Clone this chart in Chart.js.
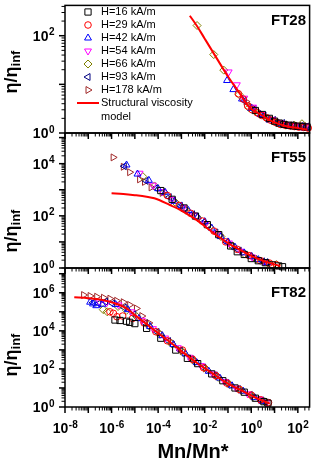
<!DOCTYPE html>
<html>
<head>
<meta charset="utf-8">
<script src="https://cdn.jsdelivr.net/npm/chart.js"></script>
<style>
html, body { margin: 0; padding: 0; background: #fff; }
#wrap { position: relative; width: 315px; height: 460px; }
#wrap canvas { position: absolute; left: 0; top: 0; }
</style>
</head>
<body>
<div id="wrap">
  <canvas id="p1" width="315" height="460"></canvas>
  <canvas id="p2" width="315" height="460"></canvas>
  <canvas id="p3" width="315" height="460"></canvas>
</div>
<script>
// series / legend
const seriesLabels = ['H=16 kA/m', 'H=29 kA/m', 'H=42 kA/m', 'H=54 kA/m', 'H=66 kA/m', 'H=93 kA/m', 'H=178 kA/m'];
const modelLabel = ['Structural viscosity', 'model'];
const xTickExps = [-8, -6, -4, -2, 0, 2];
const yTickExps28 = [0, 2];
const yTickExps55 = [0, 2, 4];
const yTickExps82 = [0, 2, 4, 6];
const panelNames = ['FT28', 'FT55', 'FT82'];

// FT28  [Mn/Mn*, eta/eta_inf]
const model28 = [[2.3e-3,258],[4.8e-3,155],[0.01,87],[0.032,35],[0.1,14.5],[0.32,6.5],[0.81,3.4],[2.5,2.4],[6.3,1.82],[32,1.38],[100,1.26],[260,1.17]];
const ft28_h16 = [[1.5,2.9],[3,2.4],[6,2.0],[10,1.75],[16,1.6],[25,1.5],[40,1.45],[63,1.4],[100,1.38],[160,1.36],[250,1.33]];
const ft28_h29 = [[0.28,6.4],[0.45,5.0],[0.7,3.6],[1.1,3.0],[1.8,2.6],[2.8,2.3],[4.5,2.05],[7,1.82],[11,1.66],[18,1.5],[28,1.45],[45,1.4],[70,1.36],[110,1.32],[180,1.3],[280,1.26]];
const ft28_h42 = [[0.091,12],[0.17,7.8],[0.4,5],[1,3.2],[2.5,2.4],[6,1.85],[15,1.55],[40,1.38],[100,1.3],[200,1.25]];
const ft28_h54 = [[0.107,18],[0.24,9.8],[0.5,5.2],[1.2,3.4],[3,2.4],[8,1.9],[20,1.6],[50,1.45],[120,1.42],[220,1.4]];
const ft28_h66 = [[4.7e-3,162],[0.0245,41],[0.066,19.6],[0.3,6.2],[0.8,3.3],[2,2.55],[5,1.95],[12,1.62],[30,1.45],[70,1.45],[150,1.55]];
const ft28_h93 = [[0.5,4.6],[1.3,3.1],[3.5,2.3],[9,1.85],[22,1.6],[55,1.47],[140,1.4],[240,1.36]];
const ft28_h178 = [[0.6,4.4],[1,3.5],[1.6,2.9],[2.5,2.55],[4,2.2],[6.3,2.0],[10,1.8],[16,1.65],[25,1.55],[40,1.48],[63,1.44],[100,1.42],[160,1.4],[250,1.38]];

// FT55
const model55 = [[1e-6,730],[3.2e-6,690],[1e-5,620],[3.2e-5,540],[6.9e-5,470],[3.2e-4,260],[1e-3,160],[3.2e-3,85],[0.01,40],[0.032,18],[0.1,9],[0.32,5],[1,2.9],[3.2,1.9],[10,1.38],[17.8,1.2]];
const ft55_h16 = [[1.3e-4,930],[4e-4,430],[1.3e-3,200],[4e-3,98],[0.013,46],[0.04,19],[0.13,7],[0.25,4.2],[0.5,3.3],[1,2.3],[2,1.9],[4,1.6],[8,1.32],[15,1.2],[22,1.12]];
const ft55_h29 = [[2.5e-4,600],[8e-4,250],[2.5e-3,125],[8e-3,63],[0.025,26],[0.08,10],[0.25,5.2],[0.8,3.0],[2.5,1.9],[6,1.55],[12,1.32]];
const ft55_h42 = [[4.4e-6,8900],[1.3e-5,4000],[4e-5,2300],[1e-4,1100],[2e-4,800],[5e-4,360],[1e-3,240],[2e-3,160],[5e-3,90],[0.01,60],[0.02,34],[0.05,16],[0.1,10],[0.2,6.3],[0.5,3.8],[1,2.8],[2,2.1],[5,1.6]];
const ft55_h54 = [[1.6e-5,4300],[6e-5,1500],[1.5e-4,850],[4e-4,430],[1.2e-3,210],[3.5e-3,107],[0.011,50],[0.035,21],[0.11,9.1],[0.35,4.4],[1.1,2.6],[3.5,1.74]];
const ft55_h66 = [[2.2e-5,3200],[7e-5,1400],[1.8e-4,800],[5.5e-4,330],[1.6e-3,160],[5e-3,85],[0.016,38],[0.05,16],[0.16,6.9],[0.5,3.5],[1.6,2.2],[5,1.6],[12,1.35]];
const ft55_h93 = [[3.5e-6,8000],[3e-5,2200],[8e-5,1150],[3e-4,520],[9e-4,240],[3e-3,115],[9e-3,57],[0.03,23],[0.09,9.8],[0.3,4.7],[0.9,2.8],[3,1.8]];
const ft55_h178 = [[1.17e-6,17400],[3.2e-6,7600],[6e-6,4700],[1.6e-5,2500],[2.6e-5,2000],[5e-5,1230],[1.5e-4,760],[4.5e-4,380],[1.4e-3,190],[4.5e-3,95],[0.014,45],[0.045,18],[0.14,7.8],[0.45,4],[1.4,2.5],[4,1.7]];

// FT82
const model82 = [[2.5e-8,5.8e5],[1e-7,5.2e5],[4e-7,4.2e5],[1.26e-6,2.9e5],[4e-6,1.6e5],[1.26e-5,5.4e4],[6.9e-5,1.07e4],[3.2e-4,2600],[1.26e-3,690],[4.8e-3,200],[0.02,62],[0.091,17.8],[0.32,8.1],[1.23,3.5],[3.2,2.1],[6.3,1.5]];
const ft82_h16 = [[1.4e-6,3.7e4],[2.3e-6,3.5e4],[4.4e-6,3.2e4],[6e-6,2.8e4],[1e-5,2.4e4],[3.2e-5,1.35e4],[1.3e-4,4100],[5.7e-4,980],[1.8e-3,360],[5e-3,190],[0.02,55],[0.06,24],[0.2,10],[0.5,6],[1.5,2.9],[3.5,1.9],[5.2,1.6]];
const ft82_h29 = [[8.5e-7,1e5],[1.2e-6,8.3e4],[1.7e-6,5.5e4],[3e-6,6e4],[8e-6,4.5e4],[2.5e-5,2.6e4],[8e-5,9000],[2.5e-4,3000],[1.1e-3,980],[3e-3,320],[9e-3,115],[0.03,44],[0.09,18],[0.3,8.5],[1,4.2],[2.5,2.4],[5.5,1.7]];
const ft82_h42 = [[1.2e-7,3.2e5],[1.6e-7,2.6e5],[2.2e-7,2.1e5],[4e-7,2.5e5],[1.5e-6,2.4e5],[5e-6,1.3e5],[1.5e-5,4.4e4],[4.5e-5,1.7e4],[1.5e-4,5600],[4.5e-4,1900],[1.5e-3,620],[4.5e-3,215],[0.015,75],[0.045,33],[0.15,13],[0.45,6.8],[1.4,3.1],[3.2,2.0]];
const ft82_h54 = [[3e-7,3.3e5],[6e-7,2.9e5],[2e-6,2.3e5],[7e-6,1e5],[2e-5,3.6e4],[6e-5,1.3e4],[2e-4,4200],[7e-4,1300],[2.2e-3,410],[7e-3,150],[0.022,55],[0.07,22],[0.22,10],[0.7,4.9],[2.2,2.6],[4.5,1.75]];
const ft82_h66 = [[4.4e-7,1.3e5],[6.5e-7,1e5],[1.9e-6,1.9e5],[4.4e-6,1.2e5],[1.2e-5,5.6e4],[3.8e-5,1.9e4],[1.2e-4,6500],[3.8e-4,2100],[1.2e-3,720],[3.8e-3,240],[0.012,93],[0.038,36],[0.12,14.8],[0.38,7.2],[1.2,3.5],[3.8,1.9]];
const ft82_h93 = [[1.6e-7,3e5],[2.8e-7,2.7e5],[5.5e-7,3.4e5],[1.1e-6,2.7e5],[3.5e-6,1.66e5],[9e-6,7.4e4],[2.8e-5,2.5e4],[9e-5,8700],[2.8e-4,2900],[9e-4,930],[2.8e-3,320],[9e-3,118],[0.028,46],[0.09,18],[0.28,8.7],[0.9,4.3],[2.8,2.2]];
const ft82_h178 = [[6.3e-8,7.6e5],[1.2e-7,6.8e5],[2.3e-7,6.2e5],[4.5e-7,5.5e5],[8.5e-7,4.9e5],[1.66e-6,3.8e5],[3.2e-6,3.2e5],[6e-6,2.3e5],[1.17e-5,1.5e5],[2e-5,6e4],[4e-5,2.6e4],[1.1e-4,8000],[3.5e-4,2700],[1.1e-3,850],[3.5e-3,290],[0.011,105],[0.035,41],[0.11,16.5],[0.35,8],[1.1,3.9],[2.6,2.3]];

// marker styles (Origin-like colours)
const seriesColors = ['#000000', '#ff0000', '#0000ff', '#ff00ff', '#808000', '#000080', '#a02828'];
const seriesShapes = ['rect', 'circle', 'triangle', 'triangle', 'rectRot', 'triangle', 'triangle'];
const seriesRotation = [0, 0, 0, 180, 0, 270, 90];
const seriesRadius = [4.4, 3.3, 4, 4, 4, 4, 4];

const FONT = '"Liberation Sans", Arial, Helvetica, sans-serif';

function logTicks(min, max) {
    const out = [];
    for (let e = Math.floor(Math.log10(min)); e <= Math.ceil(Math.log10(max)); e++) {
        for (let m = 1; m <= 9; m++) {
            const v = m * Math.pow(10, e);
            if (v >= min * 0.999 && v <= max * 1.001) out.push({ v, major: m === 1 });
        }
    }
    return out;
}

// "10" with a superscript exponent; align 'right' or 'center'
function drawPow(ctx, exp, x, y, align) {
    const base = '10', sup = String(exp);
    ctx.font = `bold 14px ${FONT}`;
    const wb = ctx.measureText(base).width;
    ctx.font = `bold 10px ${FONT}`;
    const ws = ctx.measureText(sup).width;
    const x0 = align === 'right' ? x - wb - ws : x - (wb + ws) / 2;
    ctx.textAlign = 'left';
    ctx.textBaseline = 'alphabetic';
    ctx.font = `bold 14px ${FONT}`;
    ctx.fillText(base, x0, y + 5);
    ctx.font = `bold 10px ${FONT}`;
    ctx.fillText(sup, x0 + wb + 0.5, y - 0.5);
}

function marker(ctx, i, x, y) {
    ctx.save();
    ctx.strokeStyle = seriesColors[i];
    ctx.fillStyle = 'rgba(0,0,0,0)';
    ctx.lineWidth = 1;
    const opts = { pointStyle: seriesShapes[i], radius: seriesRadius[i], rotation: seriesRotation[i], borderWidth: 1 };
    if (Chart.helpers && Chart.helpers.drawPoint) Chart.helpers.drawPoint(ctx, opts, x, y);
    ctx.restore();
}

const framePlugin = {
    id: 'frame',
    afterDatasetsDraw(chart, args, o) {
        const { ctx, chartArea: a } = chart;
        const xs = chart.scales.x, ys = chart.scales.y;
        ctx.save();
        ctx.strokeStyle = '#000';
        ctx.fillStyle = '#000';
        ctx.lineWidth = 1.5;
        ctx.strokeRect(a.left, a.top, a.right - a.left, a.bottom - a.top);

        // x ticks, outward below each panel
        logTicks(xs.min, xs.max).forEach(t => {
            const px = xs.getPixelForValue(t.v);
            const len = t.major ? 6 : 3.5;
            ctx.lineWidth = t.major ? 1.5 : 1;
            ctx.beginPath();
            ctx.moveTo(px, a.bottom);
            ctx.lineTo(px, a.bottom + len);
            ctx.stroke();
        });

        // y ticks, outward to the left
        logTicks(ys.min, ys.max).forEach(t => {
            const py = ys.getPixelForValue(t.v);
            const len = t.major ? 6 : 3.5;
            ctx.lineWidth = t.major ? 1.5 : 1;
            ctx.beginPath();
            ctx.moveTo(a.left, py);
            ctx.lineTo(a.left - len, py);
            ctx.stroke();
        });

        // y tick labels
        o.yExps.forEach(e => drawPow(ctx, e, a.left - 11, ys.getPixelForValue(Math.pow(10, e)), 'right'));

        // x tick labels + title
        if (o.bottomAxis) {
            xTickExps.forEach(e => drawPow(ctx, e, xs.getPixelForValue(Math.pow(10, e)), a.bottom + 21, 'center'));
            ctx.font = `bold 20px ${FONT}`;
            ctx.textAlign = 'center';
            ctx.textBaseline = 'alphabetic';
            ctx.fillText('Mn/Mn*', 193, 458);
        }

        // y title
        ctx.save();
        ctx.translate(17, o.titleY);
        ctx.rotate(-Math.PI / 2);
        ctx.font = `bold 18px ${FONT}`;
        const w1 = ctx.measureText('\u03b7/\u03b7').width;
        ctx.font = `bold 13px ${FONT}`;
        const w2 = ctx.measureText('inf').width;
        const sx = -(w1 + w2) / 2;
        ctx.textAlign = 'left';
        ctx.textBaseline = 'alphabetic';
        ctx.font = `bold 18px ${FONT}`;
        ctx.fillText('\u03b7/\u03b7', sx, 0);
        ctx.font = `bold 13px ${FONT}`;
        ctx.fillText('inf', sx + w1, 3);
        ctx.restore();

        // panel name
        ctx.font = `bold 15px ${FONT}`;
        ctx.textAlign = 'right';
        ctx.textBaseline = 'middle';
        ctx.fillText(o.name, 306, a.top + o.nameDy);

        // legend (top panel only)
        if (o.legend) {
            ctx.font = `11px ${FONT}`;
            ctx.textAlign = 'left';
            ctx.textBaseline = 'middle';
            seriesLabels.forEach((lab, i) => {
                const ly = 12 + i * 13;
                marker(ctx, i, 88, ly);
                ctx.fillStyle = '#000';
                ctx.fillText(lab, 101, ly);
            });
            ctx.strokeStyle = '#ff0000';
            ctx.lineWidth = 2;
            ctx.beginPath();
            ctx.moveTo(77, 103);
            ctx.lineTo(99, 103);
            ctx.stroke();
            ctx.fillStyle = '#000';
            ctx.fillText(modelLabel[0], 101, 103);
            ctx.fillText(modelLabel[1], 101, 117);
        }
        ctx.restore();
    }
};

function toXY(arr) {
    return arr.map(p => ({ x: p[0], y: p[1] }));
}

function makePanel(id, model, series, yMax, top, bottom, o) {
    const datasets = [{
        type: 'line',
        data: toXY(model),
        borderColor: '#ff0000',
        borderWidth: 2,
        pointRadius: 0,
        showLine: true,
        fill: false,
        cubicInterpolationMode: 'monotone'
    }];
    series.forEach((s, i) => {
        datasets.push({
            type: 'scatter',
            label: seriesLabels[i],
            data: toXY(s),
            borderColor: seriesColors[i],
            backgroundColor: 'rgba(0,0,0,0)',
            borderWidth: 1,
            pointStyle: seriesShapes[i],
            pointRotation: seriesRotation[i],
            pointRadius: seriesRadius[i],
            clip: 6
        });
    });
    return new Chart(document.getElementById(id), {
        type: 'scatter',
        data: { datasets },
        options: {
            responsive: false,
            animation: false,
            layout: { padding: { left: 65, right: 3, top: top, bottom: 460 - bottom } },
            scales: {
                x: { type: 'logarithmic', min: 1e-8, max: 320, display: false },
                y: { type: 'logarithmic', min: 1, max: yMax, display: false }
            },
            plugins: {
                legend: { display: false },
                tooltip: { enabled: false },
                frame: o
            }
        },
        plugins: [framePlugin]
    });
}

makePanel('p1', model28, [ft28_h16, ft28_h29, ft28_h42, ft28_h54, ft28_h66, ft28_h93, ft28_h178], 420, 2, 133,
    { yExps: yTickExps28, titleY: 72, name: panelNames[0], nameDy: 15, legend: true, bottomAxis: false });
makePanel('p2', model55, [ft55_h16, ft55_h29, ft55_h42, ft55_h54, ft55_h66, ft55_h93, ft55_h178], 1.5e5, 133, 268,
    { yExps: yTickExps55, titleY: 231, name: panelNames[1], nameDy: 25, legend: false, bottomAxis: false });
makePanel('p3', model82, [ft82_h16, ft82_h29, ft82_h42, ft82_h54, ft82_h66, ft82_h93, ft82_h178], 2e7, 268, 407,
    { yExps: yTickExps82, titleY: 355, name: panelNames[2], nameDy: 25, legend: false, bottomAxis: true });
</script>
</body>
</html>
